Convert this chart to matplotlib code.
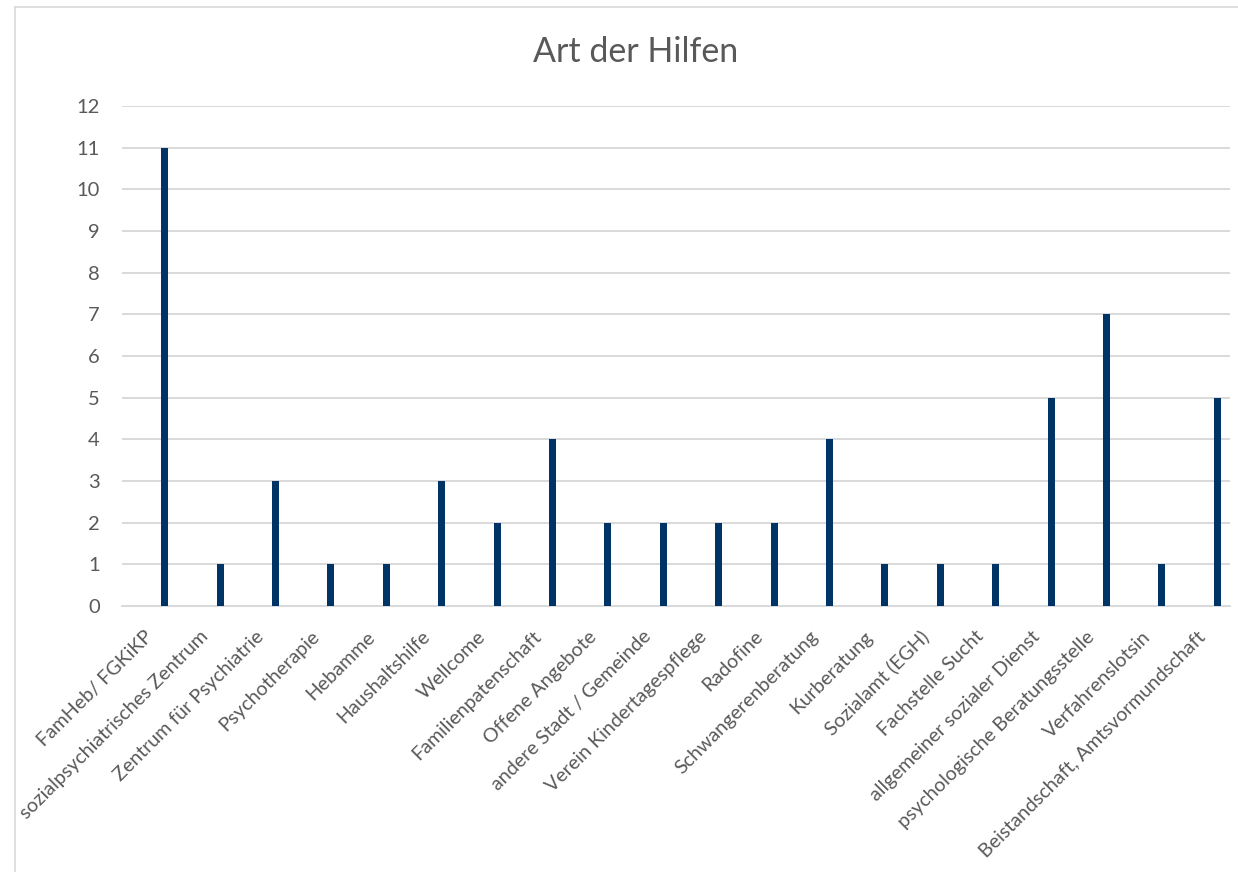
import matplotlib
matplotlib.use("Agg")
import matplotlib.pyplot as plt
from matplotlib.lines import Line2D
import numpy as np

categories = [
    "FamHeb/ FGKiKP", "sozialpsychiatrisches Zentrum", "Zentrum für Psychiatrie",
    "Psychotherapie", "Hebamme", "Haushaltshilfe", "Wellcome", "Familienpatenschaft",
    "Offene Angebote", "andere Stadt / Gemeinde", "Verein Kindertagespflege", "Radofine",
    "Schwangerenberatung", "Kurberatung", "Sozialamt (EGH)", "Fachstelle Sucht",
    "allgemeiner sozialer Dienst", "psychologische Beratungsstelle", "Verfahrenslotsin",
    "Beistandschaft, Amtsvormundschaft",
]
values = [11, 1, 3, 1, 1, 3, 2, 4, 2, 2, 2, 2, 4, 1, 1, 1, 5, 7, 1, 5]
yticks = list(range(0, 13))

plt.rcParams['font.family'] = ['Lato', 'DejaVu Sans']
W, H = 1238, 872
fig = plt.figure(figsize=(W / 100, H / 100), dpi=100)
fig.patch.set_facecolor('white')

# chart border (left and top visible)
fig.add_artist(Line2D([15 / W, 15 / W], [0, 1 - 7 / H], color='#D9D9D9', lw=1.2, transform=fig.transFigure))
fig.add_artist(Line2D([15 / W, 1], [1 - 7 / H, 1 - 7 / H], color='#D9D9D9', lw=1.2, transform=fig.transFigure))

left, right, top, bottom = 122, 1230, 106, 606
ax = fig.add_axes([left / W, 1 - bottom / H, (right - left) / W, (bottom - top) / H])

n = len(categories)
x = np.arange(n)
ax.bar(x + 0.77, values, width=0.125, color='#003366', zorder=3)

ax.set_xlim(0, n)
ax.set_ylim(0, 12)
ax.set_yticks(yticks)
ax.set_yticklabels([str(t) for t in yticks])
ax.yaxis.grid(True, color='#D9D9D9', lw=1.4, zorder=0)
ax.set_axisbelow(True)
for s in ['top', 'right', 'left']:
    ax.spines[s].set_visible(False)
ax.spines['bottom'].set_color('#D9D9D9')
ax.spines['bottom'].set_linewidth(1.4)

ax.set_xticks(x + 0.51)
ax.set_xticklabels(categories, rotation=45, ha='right', va='center', rotation_mode='anchor')
ax.tick_params(axis='x', length=0, pad=20, labelsize=14.1, labelcolor='#595959')
ax.tick_params(axis='y', length=0, pad=16, labelsize=14.5, labelcolor='#595959')

fig.text(636 / W, 1 - 52 / H, "Art der Hilfen", ha='center', va='center', fontsize=24.5, color='#595959')

fig.savefig("out.png", dpi=100, facecolor='white')
